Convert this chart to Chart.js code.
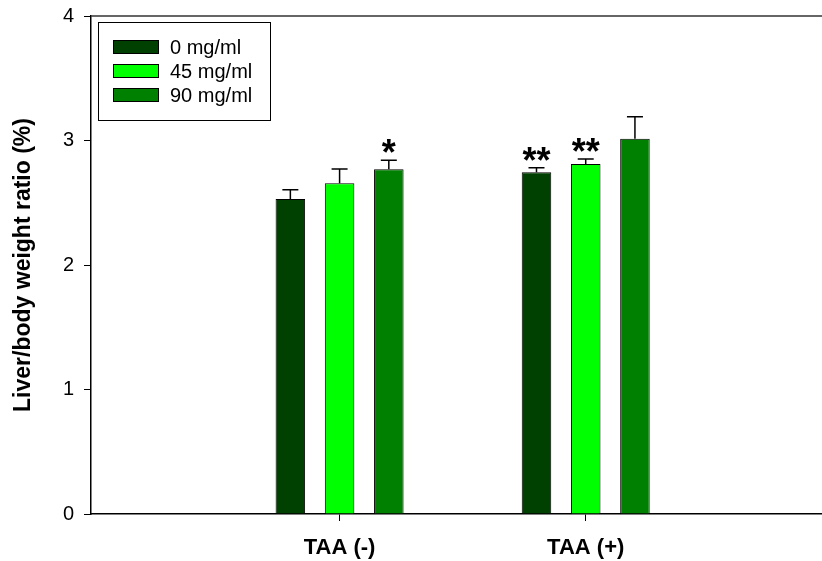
<!DOCTYPE html>
<html>
<head>
<meta charset="utf-8">
<script src="https://cdn.jsdelivr.net/npm/chart.js@4/dist/chart.umd.min.js"></script>
<style>
  html, body { margin: 0; padding: 0; background: #fff; }
  #wrap { width: 822px; height: 561px; position: relative; }
</style>
</head>
<body>
<div id="wrap"><canvas id="grafico"></canvas></div>
<script>
// dados
const categorias = ['TAA (-)', 'TAA (+)'];
const series = ['0 mg/ml', '45 mg/ml', '90 mg/ml'];
const cores = ['#004000', '#00ff00', '#008000'];
const dose0 = [2.53, 2.745];
const dose45 = [2.656, 2.811];
const dose90 = [2.769, 3.014];
const erro0 = [0.074, 0.037];
const erro45 = [0.115, 0.04];
const erro90 = [0.072, 0.177];
const sig0 = ['', '**'];
const sig45 = ['', '**'];
const sig90 = ['*', ''];
const yTicks = [0, 1, 2, 3, 4];

const valores = [dose0, dose45, dose90];
const erros = [erro0, erro45, erro90];
const sigs = [sig0, sig45, sig90];
const FONTE = '"Liberation Sans", Arial, sans-serif';

// barras de erro e asteriscos
const barrasErro = {
  id: 'barrasErro',
  afterDatasetsDraw(chart) {
    const ctx = chart.ctx;
    const y = chart.scales.y;
    ctx.save();
    chart.data.datasets.forEach((ds, i) => {
      const meta = chart.getDatasetMeta(i);
      meta.data.forEach((bar, j) => {
        const topo = y.getPixelForValue(valores[i][j] + erros[i][j]);
        ctx.strokeStyle = '#000';
        ctx.lineWidth = 1.5;
        ctx.beginPath();
        ctx.moveTo(bar.x, bar.y);
        ctx.lineTo(bar.x, topo);
        ctx.moveTo(bar.x - 8, topo);
        ctx.lineTo(bar.x + 8, topo);
        ctx.stroke();
        if (sigs[i][j]) {
          ctx.fillStyle = '#000';
          ctx.font = 'bold 36px ' + FONTE;
          ctx.textAlign = 'center';
          ctx.textBaseline = 'alphabetic';
          ctx.fillText(sigs[i][j], bar.x, topo + 5);
        }
      });
    });
    ctx.restore();
  }
};

// moldura de cima e legenda dentro da área
const moldura = {
  id: 'moldura',
  afterDraw(chart) {
    const ctx = chart.ctx;
    const a = chart.chartArea;
    ctx.save();
    ctx.strokeStyle = '#333';
    ctx.lineWidth = 1.5;
    ctx.beginPath();
    ctx.moveTo(a.left, a.top);
    ctx.lineTo(a.right, a.top);
    ctx.stroke();

    const bx = a.left + 7, by = a.top + 6;
    ctx.lineWidth = 1;
    ctx.strokeStyle = '#000';
    ctx.strokeRect(bx + 0.5, by + 0.5, 172, 98);
    ctx.font = '20px ' + FONTE;
    ctx.textBaseline = 'middle';
    ctx.textAlign = 'left';
    chart.data.datasets.forEach((ds, i) => {
      const cy = by + 25 + i * 24;
      ctx.fillStyle = ds.backgroundColor;
      ctx.fillRect(bx + 15, cy - 7, 46, 14);
      ctx.strokeRect(bx + 15.5, cy - 6.5, 45, 13);
      ctx.fillStyle = '#000';
      ctx.fillText(ds.label, bx + 72, cy + 1);
    });
    ctx.restore();
  }
};

const ctx = document.getElementById('grafico').getContext('2d');
new Chart(ctx, {
  type: 'bar',
  data: {
    datasets: series.map((nome, i) => ({
      label: nome,
      data: valores[i].map((v, j) => ({ x: j + 1, y: v })),
      backgroundColor: cores[i],
      borderColor: '#000',
      borderWidth: 1,
      categoryPercentage: 0.6,
      barPercentage: 0.6
    }))
  },
  options: {
    responsive: true,
    maintainAspectRatio: false,
    animation: false,
    devicePixelRatio: 1,
    layout: { padding: { top: 16, right: 0, left: 0, bottom: 0 } },
    plugins: {
      legend: { display: false },
      tooltip: { enabled: false }
    },
    scales: {
      x: {
        type: 'linear',
        min: -0.01,
        max: 2.96,
        offset: false,
        afterBuildTicks: (s) => { s.ticks = categorias.map((c, i) => ({ value: i + 1 })); },
        afterFit: (s) => { s.height = 47; s.paddingLeft = 0; s.paddingRight = 0; },
        ticks: {
          autoSkip: false,
          maxRotation: 0,
          padding: 14,
          color: '#000',
          font: { family: FONTE, size: 22, weight: 'bold' },
          callback: (v) => categorias[v - 1]
        },
        grid: { offset: false, drawOnChartArea: false, drawTicks: true, tickLength: 7, color: '#000' },
        border: { display: true, color: '#000', width: 1.5 }
      },
      y: {
        min: 0,
        max: 4,
        afterBuildTicks: (s) => { s.ticks = yTicks.map(v => ({ value: v })); },
        afterFit: (s) => { s.width = 91; s.paddingTop = 0; s.paddingBottom = 0; },
        ticks: {
          padding: 10,
          color: '#000',
          font: { family: FONTE, size: 20 }
        },
        grid: { drawOnChartArea: false, drawTicks: true, tickLength: 7, color: '#000' },
        border: { display: true, color: '#000', width: 1.5 },
        title: {
          display: true,
          text: 'Liver/body weight ratio (%)',
          color: '#000',
          padding: { top: 10 },
          font: { family: FONTE, size: 23, weight: 'bold' }
        }
      }
    }
  },
  plugins: [barrasErro, moldura]
});
</script>
</body>
</html>
